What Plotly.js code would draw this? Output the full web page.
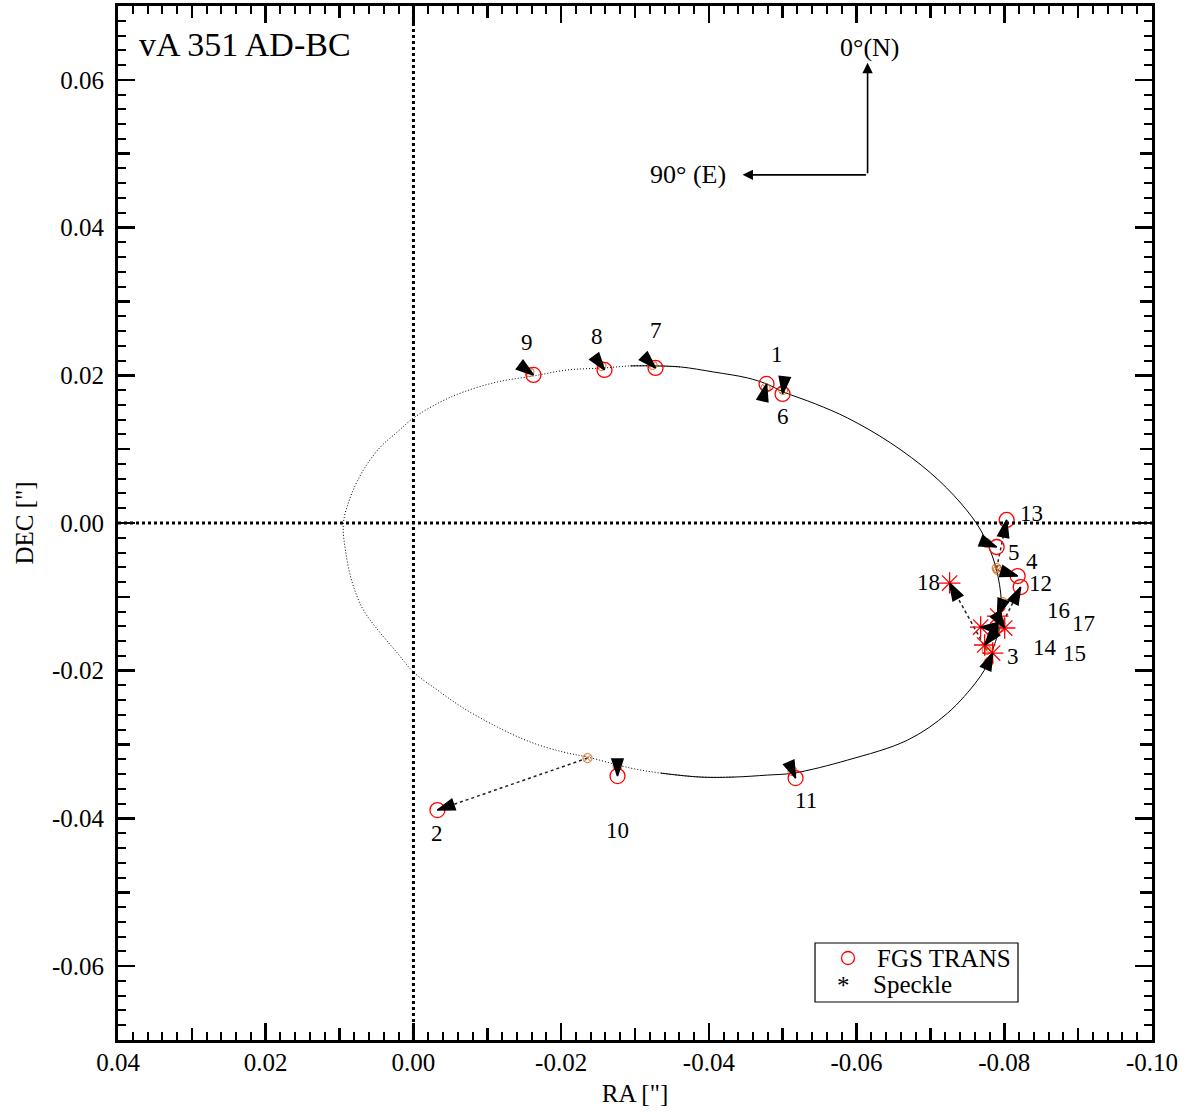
<!DOCTYPE html>
<html>
<head>
<meta charset="utf-8">
<script src="https://cdn.plot.ly/plotly-3.0.1.min.js"></script>
<style>html,body{margin:0;padding:0;background:#fff;}#chart{width:1186px;height:1116px;}</style>
</head>
<body>
<div id="chart"></div>
<script>
// ---- FGS TRANS observations (observed) and orbit-predicted positions ----
const fgsId    = [1, 2, 4, 5, 6, 7, 8, 9, 10, 11, 12, 13];
const fgsX     = [-0.04781, -0.00325, -0.08181, -0.07897, -0.04998, -0.03278, -0.02587, -0.01625, -0.02763, -0.05174, -0.08222, -0.08032];
const fgsY     = [ 0.01883, -0.03887, -0.00718, -0.00325,  0.01747,  0.02099,  0.02072,  0.02005, -0.03427, -0.03454, -0.00867,  0.00041];
const fgsPredX = [-0.04768, -0.02357, -0.07910, -0.07761, -0.05005, -0.03237, -0.02546, -0.01571, -0.02763, -0.05133, -0.07951, -0.07897];
const fgsPredY = [ 0.01830, -0.03183, -0.00637, -0.00271,  0.01801,  0.02140,  0.02127,  0.02045, -0.03291, -0.03359, -0.01409, -0.00610];

// ---- Speckle observations and predicted positions ----
const spkId    = [3, 14, 15, 16, 17, 18];
const spkX     = [-0.07842, -0.07680, -0.07734, -0.07910, -0.08005, -0.07260];
const spkY     = [-0.01761, -0.01409, -0.01652, -0.01260, -0.01422, -0.00813];
const spkPredX = [-0.07788, -0.07937, -0.07842, -0.07978, -0.07924, -0.07761];
const spkPredY = [-0.01883, -0.01422, -0.01517, -0.01070, -0.01300, -0.01720];

// ---- point number labels ----
const labelText = ['1','2','3','4','5','6','7','8','9','10','11','12','13','14','15','16','17','18'];
const labelX = [-0.04917, -0.00325, -0.08113, -0.08371, -0.08127, -0.04998, -0.03278, -0.02479, -0.01544, -0.02763, -0.05310, -0.08492, -0.08371, -0.08547, -0.08953, -0.08736, -0.09075, -0.06975];
const labelY = [ 0.02276, -0.04199, -0.01801, -0.00515, -0.00393,  0.01436,  0.02601,  0.02519,  0.02438, -0.04158, -0.03752, -0.00813,  0.00122, -0.01680, -0.01761, -0.01178, -0.01354, -0.00799];

// ---- orbit ----
const orbitSolidX = [-0.02939,-0.03278,-0.03616,-0.04063,-0.04524,-0.04781,-0.05012,-0.05445,-0.05878,-0.06461,-0.07003,-0.07409,-0.07680,-0.07856,-0.07951,-0.07951,-0.07856,-0.07788,-0.07639,-0.07233,-0.06691,-0.05878,-0.05147,-0.04795,-0.04334,-0.03887,-0.03346];
const orbitSolidY = [ 0.02127, 0.02127, 0.02113, 0.02045, 0.01964, 0.01883, 0.01774, 0.01612, 0.01422, 0.01084, 0.00677, 0.00271,-0.00095,-0.00501,-0.00948,-0.01355,-0.01680,-0.01883,-0.02127,-0.02574,-0.02939,-0.03210,-0.03386,-0.03413,-0.03440,-0.03440,-0.03386];
const orbitDotX = [-0.04334,-0.03887,-0.03346,-0.02939,-0.02357,-0.02032,-0.01585,-0.01138,-0.00677,-0.00325,0.00000,0.00217,0.00447,0.00677,0.00826,0.00921,0.00948,0.00853,0.00677,0.00447,0.00217,0.00000,-0.00366,-0.00677,-0.01138,-0.01625,-0.02086,-0.02573,-0.02939,-0.03278,-0.03616];
const orbitDotY = [-0.03440,-0.03440,-0.03386,-0.03318,-0.03169,-0.03102,-0.02966,-0.02763,-0.02506,-0.02262,-0.02018,-0.01761,-0.01490,-0.01178,-0.00813,-0.00366,0.00000,0.00352,0.00718,0.01029,0.01233,0.01422,0.01639,0.01774,0.01910,0.01991,0.02072,0.02099,0.02127,0.02127,0.02113];

// ---- axes ----
const xTickVals = [0.04, 0.02, 0.00, -0.02, -0.04, -0.06, -0.08, -0.10];
const xTickText = ['0.04','0.02','0.00','-0.02','-0.04','-0.06','-0.08','-0.10'];
const yTickVals = [0.06, 0.04, 0.02, 0.00, -0.02, -0.04, -0.06];
const yTickText = ['0.06','0.04','0.02','0.00','-0.02','-0.04','-0.06'];
const xRange = [0.04, -0.10];
const yRange = [-0.07, 0.07];

const FONT = 'Liberation Serif, Times New Roman, serif';
const traces = [];

traces.push({x: orbitSolidX, y: orbitSolidY, mode: 'lines', line: {color: 'black', width: 1, shape: 'spline', smoothing: 1}, showlegend: false, hoverinfo: 'skip'});
traces.push({x: orbitDotX, y: orbitDotY, mode: 'lines', line: {color: 'black', width: 1, dash: '1px,2px', shape: 'spline', smoothing: 1}, showlegend: false, hoverinfo: 'skip'});

// residual dotted lines
function addResiduals(px, py, ox, oy) {
  for (let i = 0; i < ox.length; i++) {
    traces.push({
      x: [px[i], ox[i]], y: [py[i], oy[i]],
      mode: 'lines', line: {color: '#222', width: 1.5, dash: 'dot'},
      showlegend: false, hoverinfo: 'skip'
    });
  }
}
addResiduals(fgsPredX, fgsPredY, fgsX, fgsY);
addResiduals(spkPredX, spkPredY, spkX, spkY);

// predicted positions (orange)
traces.push({x: fgsPredX.concat(spkPredX), y: fgsPredY.concat(spkPredY), mode: 'markers',
  marker: {symbol: 'circle-x-open', size: 9, color: '#d2691e', line: {width: 1, color: '#d2691e'}},
  showlegend: false, hoverinfo: 'skip'});

// observations
traces.push({x: fgsX, y: fgsY, mode: 'markers', name: 'FGS TRANS',
  marker: {symbol: 'circle-open', size: 15, color: 'red', line: {width: 1.3, color: 'red'}}, showlegend: false});
traces.push({x: spkX, y: spkY, mode: 'markers', name: 'Speckle',
  marker: {symbol: 'asterisk-open', size: 18, color: 'red', line: {width: 1.3, color: 'red'}}, showlegend: false});

// arrowheads pointing from predicted to observed
function addHeads(px, py, ox, oy) {
  for (let i = 0; i < ox.length; i++) {
    traces.push({
      x: [px[i], ox[i]], y: [py[i], oy[i]],
      mode: 'markers', opacity: 1,
      marker: {symbol: 'arrow', size: [0, 18], opacity: 1, angleref: 'previous', color: '#000', line: {width: 1.5, color: '#000'}},
      showlegend: false, hoverinfo: 'skip'
    });
  }
}
addHeads(fgsPredX, fgsPredY, fgsX, fgsY);
addHeads(spkPredX, spkPredY, spkX, spkY);

// invisible trace for the medium-tick overlay axes
traces.push({x: [null], y: [null], xaxis: 'x2', yaxis: 'y2', mode: 'markers', showlegend: false, hoverinfo: 'skip'});

const annotations = labelText.map((t, i) => ({
  x: labelX[i], y: labelY[i], text: t, showarrow: false,
  font: {family: FONT, size: 23, color: 'black'}
}));
annotations.push({xref: 'paper', yref: 'paper', x: 0.018, y: 0.963, xanchor: 'left', yanchor: 'middle',
  text: 'vA 351 AD-BC', showarrow: false, font: {family: FONT, size: 34, color: 'black'}});
// compass
annotations.push({x: -0.06149, y: 0.06231, ax: 0, ay: 112, axref: 'pixel', ayref: 'pixel', text: '', showarrow: true,
  arrowhead: 2, arrowsize: 1.3, arrowwidth: 1.6, arrowcolor: 'black'});
annotations.push({x: -0.04456, y: 0.04714, ax: 125, ay: 0, axref: 'pixel', ayref: 'pixel', text: '', showarrow: true,
  arrowhead: 2, arrowsize: 1.3, arrowwidth: 1.6, arrowcolor: 'black'});
annotations.push({x: -0.06176, y: 0.06434, text: '0°(N)', showarrow: false,
  font: {family: FONT, size: 26, color: 'black'}});
annotations.push({x: -0.03711, y: 0.04714, text: '90° (E)', showarrow: false,
  font: {family: FONT, size: 26, color: 'black'}});
// legend (drawn by hand to match the compact box)
annotations.push({xref: 'paper', yref: 'paper', x: 0.7321, y: 0.0793, xanchor: 'left', yanchor: 'middle',
  text: 'FGS TRANS', showarrow: false, font: {family: FONT, size: 25, color: 'black'}});
annotations.push({xref: 'paper', yref: 'paper', x: 0.7282, y: 0.0532, xanchor: 'left', yanchor: 'middle',
  text: 'Speckle', showarrow: false, font: {family: FONT, size: 25, color: 'black'}});
annotations.push({xref: 'paper', yref: 'paper', x: 0.7012, y: 0.0525, xanchor: 'center', yanchor: 'middle',
  text: '*', showarrow: false, font: {family: FONT, size: 25, color: 'black'}});

const axisCommon = {
  showline: true, linecolor: 'black', linewidth: 3, mirror: 'ticks',
  ticks: 'inside', ticklen: 17, tickwidth: 2.5, tickcolor: 'black',
  showgrid: false, zeroline: false,
  tickfont: {family: FONT, size: 25, color: 'black'},
  minor: {dtick: 0.002, ticks: 'inside', ticklen: 8, tickwidth: 2, tickcolor: 'black', showgrid: false}
};

const layout = {
  width: 1186, height: 1116,
  margin: {l: 118, r: 34, t: 6, b: 76},
  paper_bgcolor: 'white', plot_bgcolor: 'white',
  showlegend: false,
  xaxis: Object.assign({}, axisCommon, {range: xRange, tickmode: 'array', tickvals: xTickVals, ticktext: xTickText,
    title: {text: 'RA ["]', font: {family: FONT, size: 25, color: 'black'}, standoff: 10}, ticklabelstandoff: -2}),
  yaxis: Object.assign({}, axisCommon, {range: yRange, tickmode: 'array', tickvals: yTickVals, ticktext: yTickText,
    title: {text: 'DEC ["]', font: {family: FONT, size: 25, color: 'black'}, standoff: 12}, ticklabelstandoff: 6}),
  xaxis2: {overlaying: 'x', matches: 'x', range: xRange, tickmode: 'linear', tick0: 0.01, dtick: 0.02,
    ticks: 'inside', ticklen: 12, tickwidth: 2.5, tickcolor: 'black', showticklabels: false, mirror: 'ticks',
    showline: false, showgrid: false, zeroline: false, anchor: 'y2'},
  yaxis2: {overlaying: 'y', matches: 'y', range: yRange, tickmode: 'linear', tick0: 0.01, dtick: 0.02,
    ticks: 'inside', ticklen: 12, tickwidth: 2.5, tickcolor: 'black', showticklabels: false, mirror: 'ticks',
    showline: false, showgrid: false, zeroline: false, anchor: 'x2'},
  shapes: [
    {type: 'line', xref: 'x', yref: 'paper', x0: 0, x1: 0, y0: 0, y1: 1, line: {color: 'black', width: 3, dash: 'dot'}},
    {type: 'line', xref: 'paper', yref: 'y', x0: 0, x1: 1, y0: 0, y1: 0, line: {color: 'black', width: 3, dash: 'dot'}},
    {type: 'rect', xref: 'paper', yref: 'paper', x0: 0.6741, x1: 0.8704, y0: 0.03675, y1: 0.09381,
      line: {color: 'black', width: 1.2}, fillcolor: 'rgba(0,0,0,0)'},
    {type: 'circle', xref: 'paper', yref: 'paper', x0: 0.6997, x1: 0.7123, y0: 0.0730, y1: 0.0856,
      line: {color: 'red', width: 1.3}, fillcolor: 'rgba(0,0,0,0)'}
  ],
  annotations: annotations
};

Plotly.newPlot('chart', traces, layout, {staticPlot: true});
</script>
</body>
</html>
